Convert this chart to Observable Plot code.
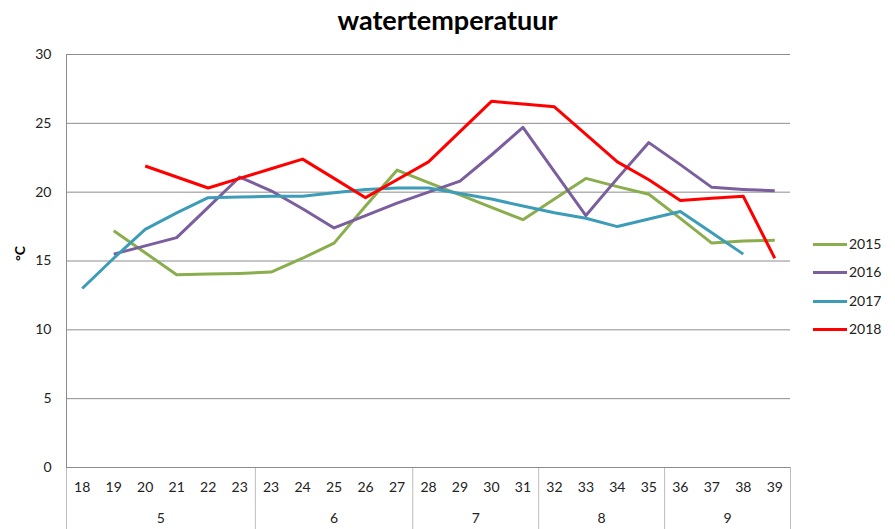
<!DOCTYPE html>
<html>
<head>
<meta charset="utf-8">
<script src="https://cdn.jsdelivr.net/npm/d3@7"></script>
<script src="https://cdn.jsdelivr.net/npm/@observablehq/plot@0.6"></script>
<style>
  html, body { margin: 0; padding: 0; background: #fff; }
  #wrap { position: relative; width: 895px; height: 529px; font-family: Lato, "Open Sans", sans-serif; }
  #title { position: absolute; left: 0; top: 3px; width: 895px; text-align: center; font-weight: bold; font-size: 27px; color: #000; line-height: 34px; }
  #chart { position: absolute; left: 0; top: 40px; }
  #legend { position: absolute; left: 813px; top: 0; }
  .item { position: absolute; left: 0; width: 80px; height: 20px; font-size: 14px; color: #222; }
  .item .sw { position: absolute; left: 0; top: 9px; width: 34px; height: 3px; }
  .item .lb { position: absolute; left: 36px; top: 0; line-height: 20px; }
</style>
</head>
<body>
<div id="wrap">
  <div id="title">watertemperatuur</div>
  <div id="chart"></div>
  <div id="legend"></div>
</div>
<script>
const weeks  = [18,19,20,21,22,23,23,24,25,26,27,28,29,30,31,32,33,34,35,36,37,38,39];
const months = [5,5,5,5,5,5,6,6,6,6,6,7,7,7,7,8,8,8,8,9,9,9,9];
const years  = ["2015","2016","2017","2018"];
const colors = ["#8aae4e","#7a5e9e","#3d9cb8","#ff0000"];
const v2015 = [null,17.2,15.6,14.0,14.05,14.1,14.2,15.2,16.3,19.0,21.6,20.7,19.8,18.9,18.0,19.5,21.0,20.4,19.85,18.1,16.3,16.45,16.5];
const v2016 = [null,15.5,16.1,16.7,18.9,21.1,20.1,18.8,17.4,18.3,19.2,20.0,20.8,22.7,24.7,21.5,18.3,21.0,23.6,22.0,20.35,20.2,20.1];
const v2017 = [13.0,15.2,17.3,18.5,19.6,19.65,19.7,19.7,19.95,20.2,20.3,20.3,19.9,19.5,19.0,18.5,18.1,17.5,18.05,18.6,17.05,15.5,null];
const v2018 = [null,null,21.9,21.1,20.3,21.0,21.7,22.4,21.0,19.6,20.9,22.2,24.4,26.6,26.4,26.2,24.2,22.2,20.9,19.4,19.55,19.7,15.2];
const yTicks = [0,5,10,15,20,25,30];

const series = [v2015, v2016, v2017, v2018];
const rows = [];
series.forEach((vals, s) => vals.forEach((v, i) => rows.push({i, v, year: years[s]})));

// group boundaries & centers from month array
const idx = d3.range(weeks.length);
const groups = d3.groups(idx, i => months[i]);
const boundaries = [-0.5, ...groups.map(([, is]) => d3.max(is) + 0.5)];
const centers = groups.map(([m, is]) => ({c: (d3.min(is) + d3.max(is)) / 2, m}));
const centerLabel = new Map(centers.map(d => [d.c, String(d.m)]));

const font = "Lato, 'Open Sans', sans-serif";
const chart = Plot.plot({
  width: 895,
  height: 489,
  marginTop: 14,
  marginBottom: 62,
  marginLeft: 66,
  marginRight: 105,
  style: {fontFamily: font, fontSize: "14px", color: "#222", background: "transparent"},
  x: {type: "linear", domain: [-0.5, weeks.length - 0.5]},
  y: {domain: [0, 30]},
  color: {domain: years, range: colors},
  marks: [
    Plot.gridY(yTicks, {stroke: "#8c8c8c", strokeOpacity: 1, strokeWidth: 1}),
    Plot.ruleX([-0.5], {stroke: "#8c8c8c", strokeWidth: 1}),
    Plot.axisY(yTicks, {tickSize: 0, tickPadding: 15, label: null, fontSize: 14}),
    Plot.axisX(boundaries, {tickSize: 62, tickFormat: () => "", stroke: "#bdbdbd", label: null}),
    Plot.axisX(idx, {tickSize: 0, tickPadding: 15, tickFormat: i => String(weeks[i]), label: null, fontSize: 14}),
    Plot.axisX(centers.map(d => d.c), {tickSize: 0, tickPadding: 46, tickFormat: c => centerLabel.get(c), label: null, fontSize: 14}),
    Plot.ruleY([0], {stroke: "#8c8c8c", strokeWidth: 1}),
    Plot.text(["°C"], {frameAnchor: "left", dx: -46, rotate: -90, fontWeight: "bold", fontSize: 14, fill: "#000"}),
    Plot.line(rows, {x: "i", y: "v", z: "year", stroke: "year", strokeWidth: 3, defined: d => d.v != null, curve: "linear", strokeLinejoin: "round", strokeLinecap: "butt"})
  ]
});
document.getElementById("chart").appendChild(chart);

const legend = document.getElementById("legend");
years.forEach((y, k) => {
  const it = document.createElement("div");
  it.className = "item";
  it.style.top = (234 + k * 28.4) + "px";
  it.innerHTML = `<div class="sw" style="background:${colors[k]}"></div><div class="lb">${y}</div>`;
  legend.appendChild(it);
});
</script>
</body>
</html>
